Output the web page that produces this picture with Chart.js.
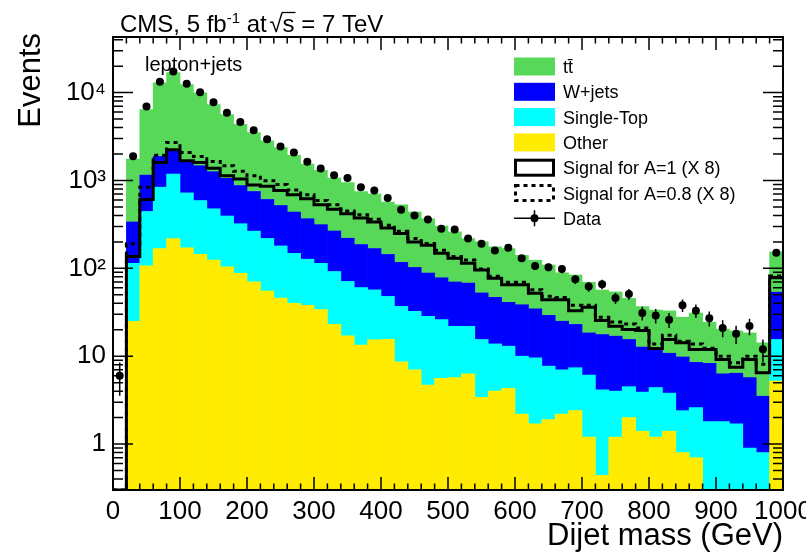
<!DOCTYPE html>
<html>
<head>
<meta charset="utf-8">
<script src="https://cdn.jsdelivr.net/npm/chart.js@4.4.1/dist/chart.umd.min.js"></script>
<style>
  body { margin: 0; background: #fff; }
  canvas { display: block; }
</style>
</head>
<body>
<canvas id="grafico" width="806" height="553"></canvas>
<script>
// Massa do dijet em bins de 20 GeV (centro do bin); o último bin inclui o overflow
const binCentros = [10, 30, 50, 70, 90, 110, 130, 150, 170, 190, 210, 230, 250, 270, 290, 310, 330, 350, 370, 390,
    410, 430, 450, 470, 490, 510, 530, 550, 570, 590, 610, 630, 650, 670, 690, 710, 730, 750, 770, 790,
    810, 830, 850, 870, 890, 910, 930, 950, 970, 990];
const larguraBin = 20;

// Fundos empilhados (de baixo para cima)
const outros = [0, 25, 107, 168, 218, 171, 144, 124, 104, 88, 70, 55, 46, 40, 38, 34, 23, 17, 13.4, 15.4,
    15.6, 8.6, 7.0, 4.7, 5.6, 5.7, 6.3, 3.4, 4.0, 4.3, 2.2, 1.7, 1.9, 2.2, 2.4, 1.2, 0.44, 1.2, 2.0, 1.4,
    1.2, 1.4, 0.8, 0.7, 0, 0, 0, 0, 0, 5.2];
const singleTop = [0, 89, 337, 670, 966, 551, 447, 352, 290, 234, 195, 164, 134, 108, 89, 80, 69, 54, 47, 41.5,
    32.3, 28.3, 25.4, 23.7, 20.5, 16.2, 15.6, 12.1, 9.8, 8.7, 7.8, 7.9, 5.8, 4.8, 5.0, 4.9, 3.7, 2.8, 2.5, 2.5,
    3.2, 2.4, 1.6, 1.9, 1.8, 1.8, 1.7, 0.9, 0.8, 10.3];
const wJets = [0, 223, 706, 1039, 986, 953, 880, 782, 663, 553, 484, 389, 339, 289, 240, 200, 174, 149, 126, 111,
    96, 80, 70, 60, 52, 48, 46, 37, 33, 28, 28.5, 25, 21.5, 18, 15.6, 12.3, 13.5, 12.9, 11, 8.8,
    8.1, 7.0, 7.4, 5.9, 6.5, 4.5, 4.7, 4.8, 2.7, 38];
const ttbar = [0, 1413, 5280, 11020, 14730, 10630, 8450, 6050, 4580, 3480, 2760, 2210, 1850, 1500, 1170, 990, 800, 725, 560, 535,
    423, 412, 335, 279, 225, 190, 150, 148, 129, 127, 102, 89, 80, 64, 61, 51, 39, 37, 30, 24,
    21, 22, 18, 22.5, 16, 14, 13, 12.7, 10.7, 100];

// Sinal (X 8) para A=1 e A=0.8
const sinalA1 = [0, 136, 607, 1606, 2230, 1675, 1605, 1373, 1133, 1040, 889, 860, 767, 686, 618, 529, 470, 418, 374, 337,
    288, 249, 200, 183, 148, 130, 114, 96, 77, 65, 65, 52, 44, 44, 33, 36, 25.4, 21.9, 20.1, 19.6,
    12.2, 15.5, 14.2, 11.9, 11.9, 9.2, 7.5, 9.2, 6.5, 78];
const sinalA08 = [0, 191, 838, 1940, 2700, 2080, 1877, 1648, 1471, 1270, 1133, 995, 897, 781, 686, 591, 529, 450, 408, 361,
    309, 264, 218, 192, 161, 136, 124, 98, 81, 69.5, 69.5, 57, 48, 46.7, 38, 37.9, 27.7, 24.5, 23.3, 21,
    13.8, 17.3, 14.8, 13.8, 12.3, 10, 8.4, 10, 8.1, 82];

// Dados (eventos por bin)
const dados = [6, 1890, 6950, 13300, 17400, 12600, 10080, 7770, 5900, 4620, 3720, 2940, 2430, 2080, 1630, 1370, 1150, 1070, 838, 767,
    630, 464, 400, 360, 283, 276, 218, 190, 160, 171, 130, 106, 103, 98, 75, 62, 66, 46, 51, 31,
    29, 26, 38, 33, 27, 21, 18, 22, 12, 150];

// Eixo Y: décadas com rótulo
const yMajorTicks = [1, 10, 100, 1000, 10000];
const yTickLabels = ['1', '10', '10\u00B2', '10\u00B3', '10\u2074'];

const cores = { tt: '#58d858', w: '#0000ff', st: '#00ffff', outros: '#ffec00' };

Chart.defaults.font.family = "'Liberation Sans', Arial, sans-serif";
Chart.defaults.color = '#000';

// Histograma em degraus: pontos na borda inferior de cada bin + borda final
function degraus(valores) {
    const pts = binCentros.map((c, i) => ({ x: c - larguraBin / 2, y: valores[i] }));
    pts.push({ x: binCentros[binCentros.length - 1] + larguraBin / 2, y: valores[valores.length - 1] });
    return pts;
}

function barras(label, valores, cor) {
    return {
        type: 'bar', label: label,
        data: binCentros.map((c, i) => ({ x: c, y: valores[i] })),
        backgroundColor: cor, borderWidth: 0,
        barPercentage: 1, categoryPercentage: 1, order: 3
    };
}

// Ticks internos e moldura em volta da área do gráfico
const moldura = {
    id: 'moldura',
    afterDatasetsDraw(chart) {
        const { ctx, chartArea: a, scales: { x, y } } = chart;
        ctx.save();
        ctx.strokeStyle = '#000';
        ctx.lineWidth = 1.5;
        ctx.beginPath();
        x.ticks.forEach(t => {
            const px = x.getPixelForValue(t.value);
            const len = t.value % 100 === 0 ? 13 : 6.5;
            ctx.moveTo(px, a.bottom); ctx.lineTo(px, a.bottom - len);
            ctx.moveTo(px, a.top); ctx.lineTo(px, a.top + len);
        });
        y.ticks.forEach(t => {
            const py = y.getPixelForValue(t.value);
            const len = yMajorTicks.includes(t.value) ? 20 : 10;
            ctx.moveTo(a.left, py); ctx.lineTo(a.left + len, py);
            ctx.moveTo(a.right, py); ctx.lineTo(a.right - len, py);
        });
        ctx.stroke();
        ctx.lineWidth = 2;
        ctx.strokeRect(a.left, a.top, a.right - a.left, a.bottom - a.top);
        ctx.restore();
    }
};

// Barras de erro (Poisson) nos pontos de dados
const barrasErro = {
    id: 'barrasErro',
    afterDatasetsDraw(chart) {
        const { ctx, scales: { x, y } } = chart;
        ctx.save();
        ctx.strokeStyle = '#000';
        ctx.lineWidth = 1.5;
        ctx.beginPath();
        dados.forEach((n, i) => {
            const px = x.getPixelForValue(binCentros[i]);
            const err = Math.sqrt(n);
            ctx.moveTo(px, y.getPixelForValue(n + err));
            ctx.lineTo(px, y.getPixelForValue(Math.max(n - err, y.min)));
        });
        ctx.stroke();
        ctx.restore();
    }
};

// Textos: título CMS, canal, legenda
const legendaItens = [
    { label: 'tt\u0304', tipo: 'caixa', cor: cores.tt },
    { label: 'W+jets', tipo: 'caixa', cor: cores.w },
    { label: 'Single-Top', tipo: 'caixa', cor: cores.st },
    { label: 'Other', tipo: 'caixa', cor: cores.outros },
    { label: 'Signal for A=1 (X 8)', tipo: 'linha', dash: [] },
    { label: 'Signal for A=0.8 (X 8)', tipo: 'linha', dash: [4, 4] },
    { label: 'Data', tipo: 'ponto' }
];

const textos = {
    id: 'textos',
    afterDraw(chart) {
        const ctx = chart.ctx;
        const fam = Chart.defaults.font.family;
        ctx.save();
        ctx.fillStyle = '#000';
        ctx.textBaseline = 'alphabetic';

        // CMS, 5 fb^-1 at sqrt(s) = 7 TeV
        let xt = 120;
        const yb = 32;
        ctx.font = '24px ' + fam;
        ctx.fillText('CMS, 5 fb', xt, yb);
        xt += ctx.measureText('CMS, 5 fb').width;
        ctx.font = '15px ' + fam;
        ctx.fillText('-1', xt, yb - 9);
        xt += ctx.measureText('-1').width;
        ctx.font = '24px ' + fam;
        ctx.fillText(' at', xt, yb);
        xt += ctx.measureText(' at ').width - 4;
        ctx.fillText('\u221A', xt, yb);
        const wr = ctx.measureText('\u221A').width;
        xt += wr;
        ctx.fillText('s', xt, yb);
        const ws = ctx.measureText('s').width;
        ctx.lineWidth = 1.3;
        ctx.beginPath();
        ctx.moveTo(xt - 1, yb - 19.5);
        ctx.lineTo(xt + ws + 1, yb - 19.5);
        ctx.stroke();
        xt += ws;
        ctx.fillText(' = 7 TeV', xt, yb);

        // canal
        ctx.font = '20px ' + fam;
        ctx.fillText('lepton+jets', 145, 71);

        // eixo Y
        ctx.font = '31px ' + fam;
        ctx.save();
        ctx.translate(40, 33);
        ctx.rotate(-Math.PI / 2);
        ctx.textAlign = 'right';
        ctx.fillText('Events', 0, 0);
        ctx.restore();

        // legenda
        ctx.font = '18px ' + fam;
        legendaItens.forEach((it, i) => {
            const yc = 66.5 + i * 25.3;
            const bx = 514, bw = 41, bh = 18;
            if (it.tipo === 'caixa') {
                ctx.fillStyle = it.cor;
                ctx.fillRect(bx, yc - bh / 2, bw, bh);
            } else if (it.tipo === 'linha') {
                ctx.strokeStyle = '#000';
                ctx.lineWidth = 3;
                ctx.setLineDash(it.dash);
                ctx.strokeRect(bx + 1.5, yc - bh / 2 + 1.5, bw - 3, bh - 3);
                ctx.setLineDash([]);
            } else {
                ctx.strokeStyle = '#000';
                ctx.lineWidth = 1.5;
                ctx.beginPath();
                ctx.moveTo(bx, yc); ctx.lineTo(bx + bw, yc);
                ctx.moveTo(bx + bw / 2, yc - 8); ctx.lineTo(bx + bw / 2, yc + 8);
                ctx.stroke();
                ctx.fillStyle = '#000';
                ctx.beginPath();
                ctx.arc(bx + bw / 2, yc, 4, 0, Math.PI * 2);
                ctx.fill();
            }
            ctx.fillStyle = '#000';
            ctx.fillText(it.label, 563, yc + 6.5);
        });
        ctx.restore();
    }
};

const ctx = document.getElementById('grafico').getContext('2d');
new Chart(ctx, {
    type: 'bar',
    data: {
        datasets: [
            barras('Other', outros, cores.outros),
            barras('Single-Top', singleTop, cores.st),
            barras('W+jets', wJets, cores.w),
            barras('tt', ttbar, cores.tt),
            {
                type: 'line', label: 'Signal for A=1 (X 8)', data: degraus(sinalA1), parsing: false,
                stepped: true, borderColor: '#000', borderWidth: 3, pointRadius: 0, fill: false,
                stack: 'sinal1', order: 1
            },
            {
                type: 'line', label: 'Signal for A=0.8 (X 8)', data: degraus(sinalA08), parsing: false,
                stepped: true, borderColor: '#000', borderWidth: 3, borderDash: [4, 4], pointRadius: 0, fill: false,
                stack: 'sinal08', order: 2
            },
            {
                type: 'line', label: 'Data', data: binCentros.map((c, i) => ({ x: c, y: dados[i] })),
                showLine: false, pointRadius: 4, pointBackgroundColor: '#000', pointBorderWidth: 0,
                stack: 'dados', order: 0
            }
        ]
    },
    options: {
        responsive: false,
        animation: false,
        layout: { padding: { top: 37, right: 23, bottom: 0, left: 0 } },
        plugins: { legend: { display: false }, tooltip: { enabled: false } },
        scales: {
            x: {
                type: 'linear', min: 0, max: 1000, offset: false, stacked: true,
                grid: { display: false, drawTicks: false },
                border: { display: false },
                ticks: {
                    stepSize: 20, autoSkip: false, maxRotation: 0, padding: 6,
                    font: { size: 26 },
                    callback: v => (v % 100 === 0 ? String(v) : '')
                },
                title: { display: true, text: 'Dijet mass (GeV)', align: 'end', font: { size: 31 }, padding: { top: 0, bottom: -2 } },
                afterFit: s => { s.height = 63; s.paddingLeft = 0; s.paddingRight = 0; }
            },
            y: {
                type: 'logarithmic', min: 0.3266, max: 42940, stacked: true,
                grid: { display: false, drawTicks: false },
                border: { display: false },
                afterBuildTicks: s => {
                    const t = [];
                    [0.1, 1, 10, 100, 1000, 10000].forEach(d => {
                        for (let m = 1; m <= 9; m++) {
                            const v = d < 1 ? Math.round(m * d * 10) / 10 : m * d;
                            if (v >= s.min && v <= s.max) t.push({ value: v });
                        }
                    });
                    s.ticks = t;
                },
                ticks: {
                    autoSkip: false, padding: 7,
                    font: { size: 26 },
                    callback: v => {
                        const i = yMajorTicks.indexOf(v);
                        return i >= 0 ? yTickLabels[i] : '';
                    }
                },
                afterFit: s => { s.width = 113; }
            }
        }
    },
    plugins: [moldura, barrasErro, textos]
});
</script>
</body>
</html>
